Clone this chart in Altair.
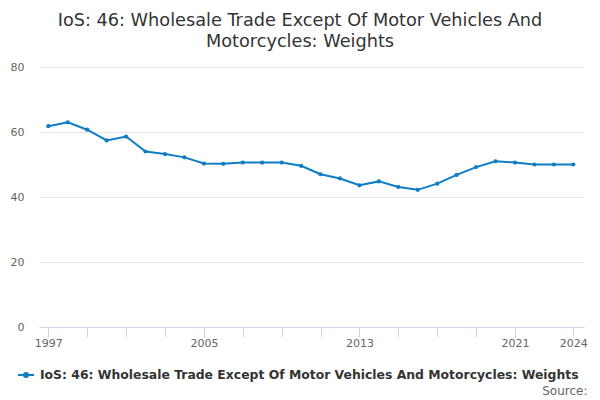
import altair as alt
import pandas as pd

years = list(range(1997, 2025))
values = [61.8, 63.0, 60.7, 57.4, 58.6, 54.0, 53.2, 52.2, 50.3, 50.2,
          50.6, 50.6, 50.6, 49.6, 47.0, 45.7, 43.6, 44.8, 43.1, 42.2,
          44.1, 46.8, 49.2, 51.0, 50.6, 50.0, 50.0, 50.0]
series_name = "IoS: 46: Wholesale Trade Except Of Motor Vehicles And Motorcycles: Weights"
title_lines = ["IoS: 46: Wholesale Trade Except Of Motor Vehicles And", "Motorcycles: Weights"]
x_ticks = [1997, 1999, 2001, 2003, 2005, 2007, 2009, 2011, 2013, 2015, 2017, 2019, 2021, 2024]
x_labels = [1997, 2005, 2013, 2021, 2024]
y_ticks = [0, 20, 40, 60, 80]

df = pd.DataFrame({"year": years, "value": values, "series": series_name})

blue = "#0f7dc4"
font = "DejaVu Sans"

label_test = " || ".join(f"datum.value == {v}" for v in x_labels)

x_enc = alt.X(
    "year:Q",
    scale=alt.Scale(domain=[1996.52, 2024.55], nice=False, zero=False),
    axis=alt.Axis(
        values=x_ticks,
        labelExpr=f"({label_test}) ? datum.value : ''",
        format="d",
        grid=False,
        domainColor="#ccd6eb",
        tickColor="#ccd6eb",
        tickSize=10,
        labelPadding=0,
        labelColor="#666666",
        labelFontSize=11,
        labelFont=font,
        labelFlush=False,
        labelOverlap=False,
        title="Source:",
        titleAnchor="end",
        titleAlign="right",
        titleBaseline="alphabetic",
        titleX=548,
        titleY=67,
        titleColor="#666666",
        titleFontSize=12,
        titleFontWeight="normal",
        titleFont=font,
    ),
)
y_enc = alt.Y(
    "value:Q",
    scale=alt.Scale(domain=[0, 80], nice=False),
    axis=alt.Axis(
        values=y_ticks,
        grid=True,
        gridColor="#e6e6e6",
        domain=False,
        ticks=False,
        tickSize=0,
        labelPadding=15,
        labelColor="#666666",
        labelFontSize=11,
        labelFont=font,
        title=None,
    ),
)

color_enc = alt.Color(
    "series:N",
    scale=alt.Scale(range=[blue]),
    legend=alt.Legend(
        title=None,
        orient="none",
        legendX=-22,
        legendY=299,
        symbolType="M-1,0H1M0.25,0A0.25,0.25,0,1,1,-0.25,0A0.25,0.25,0,1,1,0.25,0Z",
        symbolSize=256,
        symbolStrokeWidth=2,
        symbolFillColor=blue,
        symbolStrokeColor=blue,
        labelFontSize=12.4,
        labelFontWeight="bold",
        labelColor="#333333",
        labelFont=font,
        labelOffset=5,
        labelLimit=700,
    ),
)

line = alt.Chart(df).mark_line(strokeWidth=2).encode(x=x_enc, y=y_enc, color=color_enc)
points = alt.Chart(df).mark_circle(size=18, opacity=1).encode(x="year:Q", y="value:Q", color=alt.Color("series:N", legend=None))

chart = (
    alt.layer(line, points)
    .properties(
        width=545,
        height=260,
        padding={"left": 31, "top": 59, "right": 8, "bottom": 76},
        autosize=alt.AutoSizeParams(type="none"),
        title=alt.TitleParams(
            text=title_lines,
            anchor="middle",
            frame="group",
            dx=-11.5,
            fontSize=17.7,
            fontWeight="normal",
            font=font,
            color="#333333",
            lineHeight=21,
            offset=10,
        ),
    )
    .configure_view(stroke=None)
)

chart.save("out.html", embed_options={"renderer": "svg", "actions": False})
